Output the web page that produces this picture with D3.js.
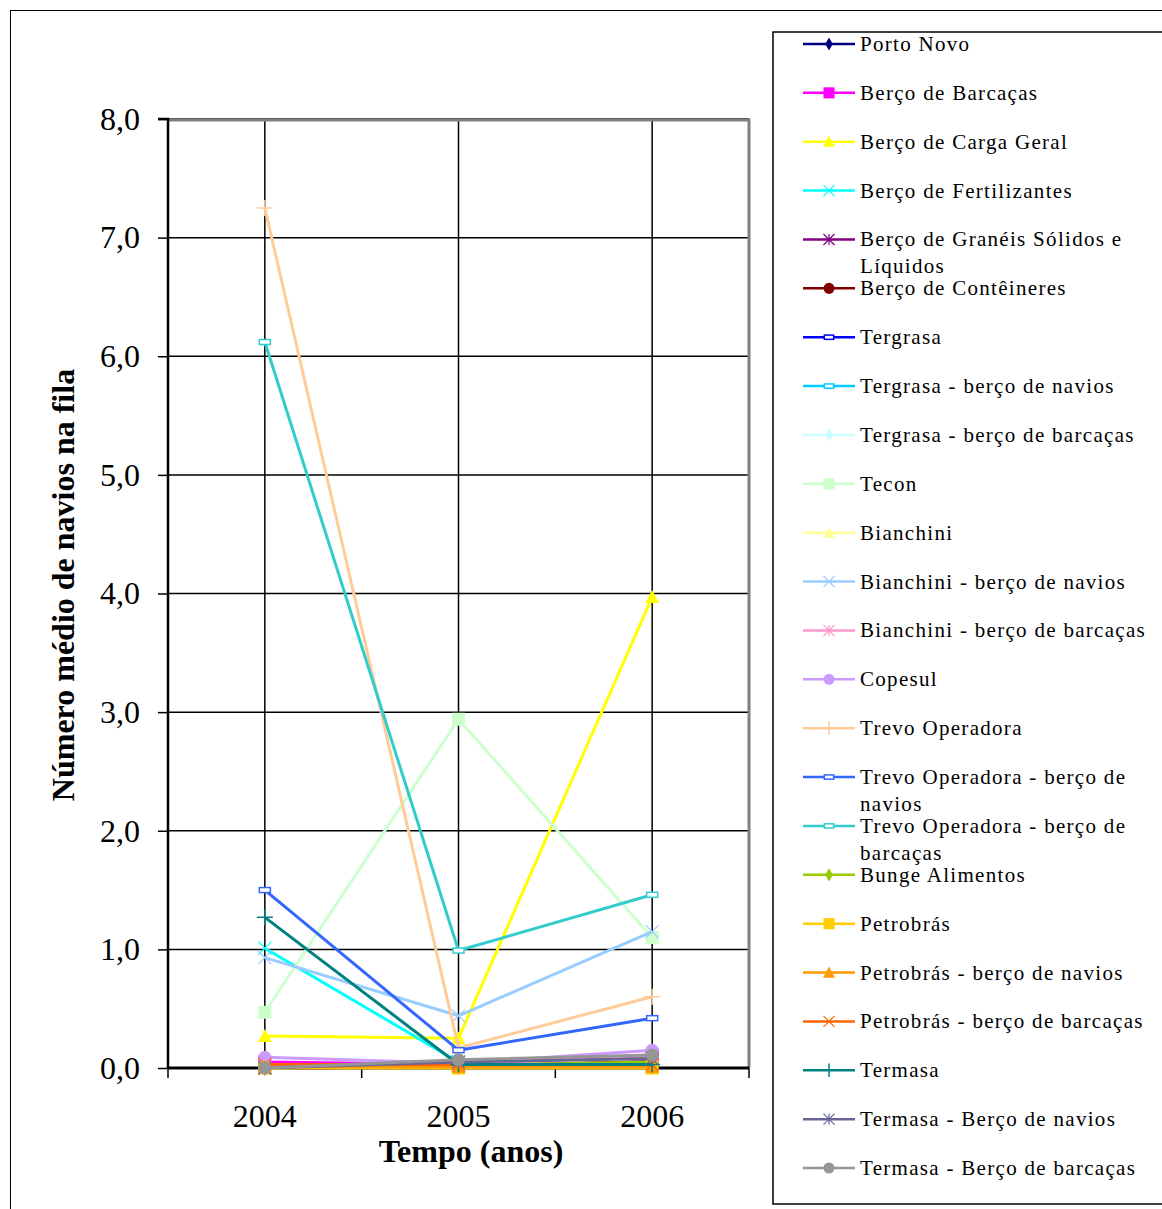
<!DOCTYPE html>
<html>
<head>
<meta charset="utf-8">
<script src="https://cdn.jsdelivr.net/npm/d3@7"></script>
<style>
  body { margin: 0; background: #fff; }
  svg { display: block; }
  text { font-family: "Liberation Serif", "Times New Roman", serif; }
</style>
</head>
<body>
<svg id="chart" width="1162" height="1209"></svg>
<script>
// Anos do eixo X
const years = ["2004", "2005", "2006"];

// Marcas do eixo Y
const yTicks = [0, 1, 2, 3, 4, 5, 6, 7, 8];

// Terminais (ordem da legenda)
const seriesNames = [
  "Porto Novo",
  "Berço de Barcaças",
  "Berço de Carga Geral",
  "Berço de Fertilizantes",
  "Berço de Granéis Sólidos e|Líquidos",
  "Berço de Contêineres",
  "Tergrasa",
  "Tergrasa - berço de navios",
  "Tergrasa - berço de barcaças",
  "Tecon",
  "Bianchini",
  "Bianchini - berço de navios",
  "Bianchini - berço de barcaças",
  "Copesul",
  "Trevo Operadora",
  "Trevo Operadora - berço de|navios",
  "Trevo Operadora - berço de|barcaças",
  "Bunge Alimentos",
  "Petrobrás",
  "Petrobrás - berço de navios",
  "Petrobrás - berço de barcaças",
  "Termasa",
  "Termasa - Berço de navios",
  "Termasa - Berço de barcaças"
];

const seriesColors = [
  "#000080", "#FF00FF", "#FFFF00", "#00FFFF", "#800080", "#800000",
  "#0000FF", "#00CCFF", "#CCFFFF", "#CCFFCC", "#FFFF99", "#99CCFF",
  "#FF99CC", "#CC99FF", "#FFCC99", "#3366FF", "#33CCCC", "#99CC00",
  "#FFCC00", "#FF9900", "#FF6600", "#008080", "#666699", "#969696"
];

const seriesMarkers = [
  "diamond", "square", "triangle", "x", "star", "circle",
  "dash", "dash", "diamond", "square", "triangle", "x",
  "star", "circle", "plus", "dash", "dash", "diamond",
  "square", "triangle", "x", "plus", "star", "circle"
];

// Número médio de navios na fila (2004, 2005, 2006)
const seriesValues = [
  [0.00, 0.01, 0.02],
  [0.05, 0.03, 0.10],
  [0.27, 0.25, 3.97],
  [1.01, 0.05, 0.04],
  [0.00, 0.02, 0.06],
  [0.00, 0.01, 0.05],
  [0.00, 0.02, 0.03],
  [0.00, 0.02, 0.03],
  [0.00, 0.02, 0.03],
  [0.47, 2.94, 1.10],
  [0.00, 0.04, 0.08],
  [0.93, 0.44, 1.15],
  [0.00, 0.03, 0.11],
  [0.09, 0.04, 0.15],
  [7.25, 0.17, 0.60],
  [1.50, 0.15, 0.42],
  [6.12, 0.99, 1.46],
  [0.00, 0.02, 0.05],
  [0.00, 0.00, 0.00],
  [0.01, 0.01, 0.01],
  [0.03, 0.03, 0.03],
  [1.27, 0.03, 0.03],
  [0.00, 0.05, 0.08],
  [0.00, 0.07, 0.11]
];

const serif = "'Liberation Serif', 'Times New Roman', serif";
const svg = d3.select("#chart");

// Moldura externa do gráfico
svg.append("rect")
  .attr("x", 10.5).attr("y", 10.5)
  .attr("width", 1170).attr("height", 1220)
  .attr("fill", "none").attr("stroke", "#000").attr("stroke-width", 1);

const plot = { left: 168, right: 749, top: 119, bottom: 1068 };

const x = d3.scaleBand().domain(years).range([plot.left, plot.right]);
const xc = d => x(d) + x.bandwidth() / 2;
const y = d3.scaleLinear().domain([0, 8]).range([plot.bottom, plot.top]);

const fmt = v => d3.format(".1f")(v).replace(".", ",");

// Linhas de grade horizontais
svg.append("g").selectAll("line").data(yTicks.slice(1)).join("line")
  .attr("x1", plot.left).attr("x2", plot.right)
  .attr("y1", d => y(d)).attr("y2", d => y(d))
  .attr("stroke", "#000").attr("stroke-width", 1.5);

// Linhas de grade verticais nos anos
svg.append("g").selectAll("line").data(years).join("line")
  .attr("x1", d => xc(d)).attr("x2", d => xc(d))
  .attr("y1", plot.top).attr("y2", plot.bottom)
  .attr("stroke", "#000").attr("stroke-width", 1.5);

// Borda da área de plotagem (topo e direita)
svg.append("path")
  .attr("d", `M${plot.left},${plot.top + 1}H${plot.right}V${plot.bottom}`)
  .attr("fill", "none").attr("stroke", "#808080").attr("stroke-width", 3);

// Eixo Y
const yAxis = svg.append("g")
  .attr("transform", `translate(${plot.left},0)`)
  .call(d3.axisLeft(y).tickValues(yTicks).tickFormat(fmt).tickSize(10).tickPadding(18));
yAxis.attr("font-family", serif);
yAxis.select(".domain").attr("stroke-width", 2.5).attr("d", `M-10,${plot.top}H0V${plot.bottom}`);
yAxis.selectAll(".tick line").attr("stroke-width", 1.5);
yAxis.selectAll(".tick text")
  .attr("font-size", 32).attr("fill", "#000")
  .style("font-family", serif);

// Eixo X (marcas entre as categorias)
const xAxis = svg.append("g")
  .attr("transform", `translate(0,${plot.bottom})`)
  .call(d3.axisBottom(x).tickSize(0).tickPadding(36));
xAxis.attr("font-family", serif);
xAxis.select(".domain").attr("stroke-width", 3).attr("d", `M${plot.left},0H${plot.right}`);
xAxis.selectAll(".tick text")
  .attr("font-size", 32).attr("fill", "#000")
  .style("font-family", serif);
const xBounds = years.map(d => x(d)).concat([x(years[years.length - 1]) + x.bandwidth()]);
xAxis.selectAll(".bound").data(xBounds).join("line")
  .attr("class", "bound")
  .attr("x1", d => d).attr("x2", d => d)
  .attr("y1", 0).attr("y2", 10)
  .attr("stroke", "#000").attr("stroke-width", 1.5);

// Títulos dos eixos
svg.append("text")
  .attr("x", 471).attr("y", 1162)
  .attr("text-anchor", "middle")
  .attr("font-size", 32).attr("font-weight", "bold")
  .text("Tempo (anos)");

svg.append("text")
  .attr("transform", "translate(74,585) rotate(-90)")
  .attr("text-anchor", "middle")
  .attr("font-size", 32).attr("font-weight", "bold")
  .text("Número médio de navios na fila");

// Desenho dos marcadores
function drawMarker(g, type, color, cx, cy, s) {
  const k = s || 1;
  if (type === "diamond") {
    g.append("path").attr("d", d3.symbol(d3.symbolDiamond, 70 * k * k)())
      .attr("transform", `translate(${cx},${cy})`).attr("fill", color);
  } else if (type === "square") {
    g.append("rect").attr("x", cx - 6.5 * k).attr("y", cy - 6.5 * k)
      .attr("width", 13 * k).attr("height", 13 * k).attr("fill", color);
  } else if (type === "triangle") {
    g.append("path").attr("d", `M0,${-7 * k}L${7 * k},${6 * k}L${-7 * k},${6 * k}Z`)
      .attr("transform", `translate(${cx},${cy})`).attr("fill", color);
  } else if (type === "circle") {
    g.append("circle").attr("cx", cx).attr("cy", cy).attr("r", 6.5 * k).attr("fill", color);
  } else if (type === "x" || type === "star") {
    const r = 6.5 * k;
    g.append("path")
      .attr("d", `M${cx - r},${cy - r}L${cx + r},${cy + r}M${cx - r},${cy + r}L${cx + r},${cy - r}` +
        (type === "star" ? `M${cx},${cy - r}V${cy + r}` : ""))
      .attr("stroke", color).attr("stroke-width", 1.2).attr("fill", "none");
  } else if (type === "plus") {
    const r = 8 * k;
    g.append("path")
      .attr("d", `M${cx - r},${cy}H${cx + r}M${cx},${cy - r}V${cy + r}`)
      .attr("stroke", color).attr("stroke-width", 1.5).attr("fill", "none");
  } else if (type === "dash") {
    g.append("rect").attr("x", cx - 5.5 * k).attr("y", cy - 2.5 * k)
      .attr("width", 11 * k).attr("height", 5 * k)
      .attr("fill", "#fff").attr("stroke", color).attr("stroke-width", 1.5);
  }
}

// Séries
const line = d3.line().x(d => xc(d.year)).y(d => y(d.value));
const seriesG = svg.append("g");
seriesValues.forEach((vals, i) => {
  const pts = vals.map((v, j) => ({ year: years[j], value: v }));
  const g = seriesG.append("g");
  g.append("path").datum(pts)
    .attr("d", line)
    .attr("fill", "none")
    .attr("stroke", seriesColors[i])
    .attr("stroke-width", 3)
    .attr("stroke-linejoin", "round");
  pts.forEach(p => drawMarker(g, seriesMarkers[i], seriesColors[i], xc(p.year), y(p.value), 1));
});

// Legenda
const legend = svg.append("g");
legend.append("rect")
  .attr("x", 773).attr("y", 32).attr("width", 420).attr("height", 1172)
  .attr("fill", "#fff").attr("stroke", "#000").attr("stroke-width", 1.5);

const rowGap = 48.87;
seriesNames.forEach((name, i) => {
  const cy = 44 + i * rowGap;
  const g = legend.append("g");
  g.append("line").attr("x1", 803).attr("x2", 855).attr("y1", cy).attr("y2", cy)
    .attr("stroke", seriesColors[i]).attr("stroke-width", 2.5);
  drawMarker(g, seriesMarkers[i], seriesColors[i], 829, cy, 0.85);
  const parts = name.split("|");
  const t = g.append("text")
    .attr("x", 860).attr("y", cy + 7)
    .attr("font-size", 21).attr("fill", "#000")
    .attr("letter-spacing", 1.3);
  parts.forEach((p, k) => {
    t.append("tspan").attr("x", 860).attr("dy", k === 0 ? 0 : 27).text(p);
  });
});
</script>
</body>
</html>
